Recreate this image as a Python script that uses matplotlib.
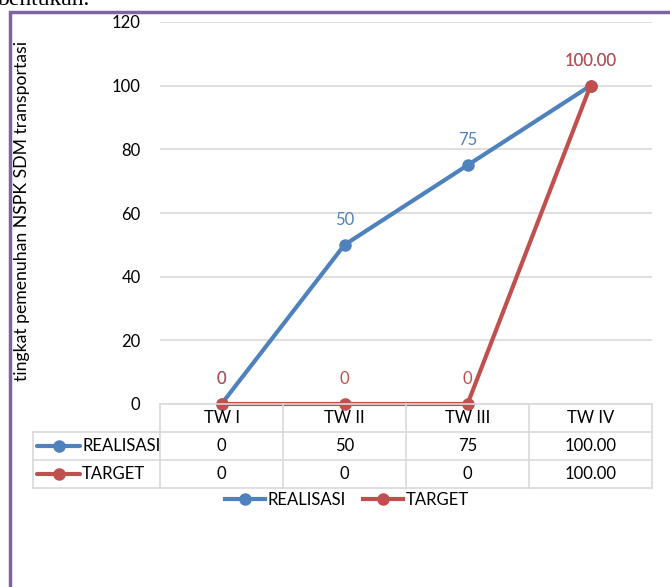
import matplotlib
matplotlib.use("Agg")
import matplotlib.pyplot as plt
from matplotlib.lines import Line2D
from matplotlib.patches import Rectangle

categories = ["TW I", "TW II", "TW III", "TW IV"]
realisasi = [0, 50, 75, 100]
target = [0, 0, 0, 100]
realisasi_labels = ["0", "50", "75", "100.00"]
target_labels = ["0", "0", "0", "100.00"]
series_names = ["REALISASI", "TARGET"]
y_ticks = [0, 20, 40, 60, 80, 100, 120]
y_label = "tingkat pemenuhan NSPK SDM transportasi"

BLUE = "#4F81BD"
RED = "#C0504D"
GRID = "#D9D9D9"
FONT = ["Lato", "DejaVu Sans"]
FS = 12

plt.rcParams['font.family'] = FONT

W, H = 670, 587
fig = plt.figure(figsize=(W / 100, H / 100), dpi=100)

def fx(px):
    return px / W

def fy(py):
    return 1 - py / H

# main plot area
x0, x1, ytop, ybot = 160, 652, 22, 404
ax = fig.add_axes([fx(x0), fy(ybot), fx(x1 - x0), (ybot - ytop) / H])
xs = list(range(len(categories)))
ax.set_xlim(-0.5, len(categories) - 0.5)
ax.set_ylim(0, 120)
ax.set_yticks(y_ticks)
ax.set_yticklabels([str(t) for t in y_ticks], fontsize=FS)
ax.tick_params(axis='y', length=0, pad=14)
ax.set_xticks([])
for s in ax.spines.values():
    s.set_visible(False)
ax.yaxis.grid(True, color=GRID, lw=1.2)
ax.set_axisbelow(True)

series = [(realisasi, realisasi_labels, BLUE), (target, target_labels, RED)]
for vals, labs, col in series:
    ax.plot(xs, vals, color=col, lw=3, marker='o', ms=8, clip_on=False,
            solid_capstyle='round', zorder=3)
for vals, labs, col in series:
    for x, v, l in zip(xs, vals, labs):
        ax.annotate(l, (x, v), xytext=(0, 18), textcoords='offset points',
                    ha='center', va='center', color=col, fontsize=FS, zorder=4)

# data table
label_w = 127 / 123  # width of row label column in category units
tx = fig.add_axes([fx(33), fy(488), fx(652 - 33), 84 / H])
tx.set_xlim(-0.5 - label_w, len(categories) - 0.5)
tx.set_ylim(3, 0)
tx.axis('off')
left = -0.5 - label_w
right = len(categories) - 0.5
lk = dict(color=GRID, lw=1.2, clip_on=False)
tx.plot([-0.5, right], [0, 0], **lk)
for r in (1, 2, 3):
    tx.plot([left, right], [r, r], **lk)
tx.plot([left, left], [1, 3], **lk)
for i in range(len(categories) + 1):
    tx.plot([i - 0.5, i - 0.5], [0, 3], **lk)
for i, c in enumerate(categories):
    tx.text(i, 0.5, c, ha='center', va='center', fontsize=FS)
for r, (labs, col, name) in enumerate(zip([realisasi_labels, target_labels],
                                           [BLUE, RED], series_names)):
    yy = r + 1.5
    for i, l in enumerate(labs):
        tx.text(i, yy, l, ha='center', va='center', fontsize=FS)
    k0 = left + 4 / 123
    k1 = left + 47 / 123
    tx.plot([k0, k1], [yy, yy], color=col, lw=3, solid_capstyle='round')
    tx.plot([(k0 + k1) / 2], [yy], marker='o', ms=8, color=col)
    tx.text(left + 49 / 123, yy, name, ha='left', va='center', fontsize=FS)

# legend
handles = [Line2D([0], [0], color=c, lw=3, marker='o', ms=8) for c in (BLUE, RED)]
fig.legend(handles, series_names, loc='center', bbox_to_anchor=(fx(347), fy(500)),
           ncol=2, frameon=False, fontsize=FS, handlelength=2.4,
           handletextpad=0.15, columnspacing=1.0, borderaxespad=0, borderpad=0)

# y label
fig.text(fx(22), fy(211), y_label, rotation=90, ha='center', va='center', fontsize=12.7)

# frame and cropped document text
fig.patches.append(Rectangle((fx(10), -0.1), 1.2, fy(12) + 0.1, transform=fig.transFigure,
                             fill=False, edgecolor="#8064A2", lw=2.5))
fig.text(fx(-2), fy(5), "bentukan.", family=["Liberation Serif", "DejaVu Serif"],
         fontsize=17, ha='left', va='baseline')

fig.savefig("out.png", dpi=100)
